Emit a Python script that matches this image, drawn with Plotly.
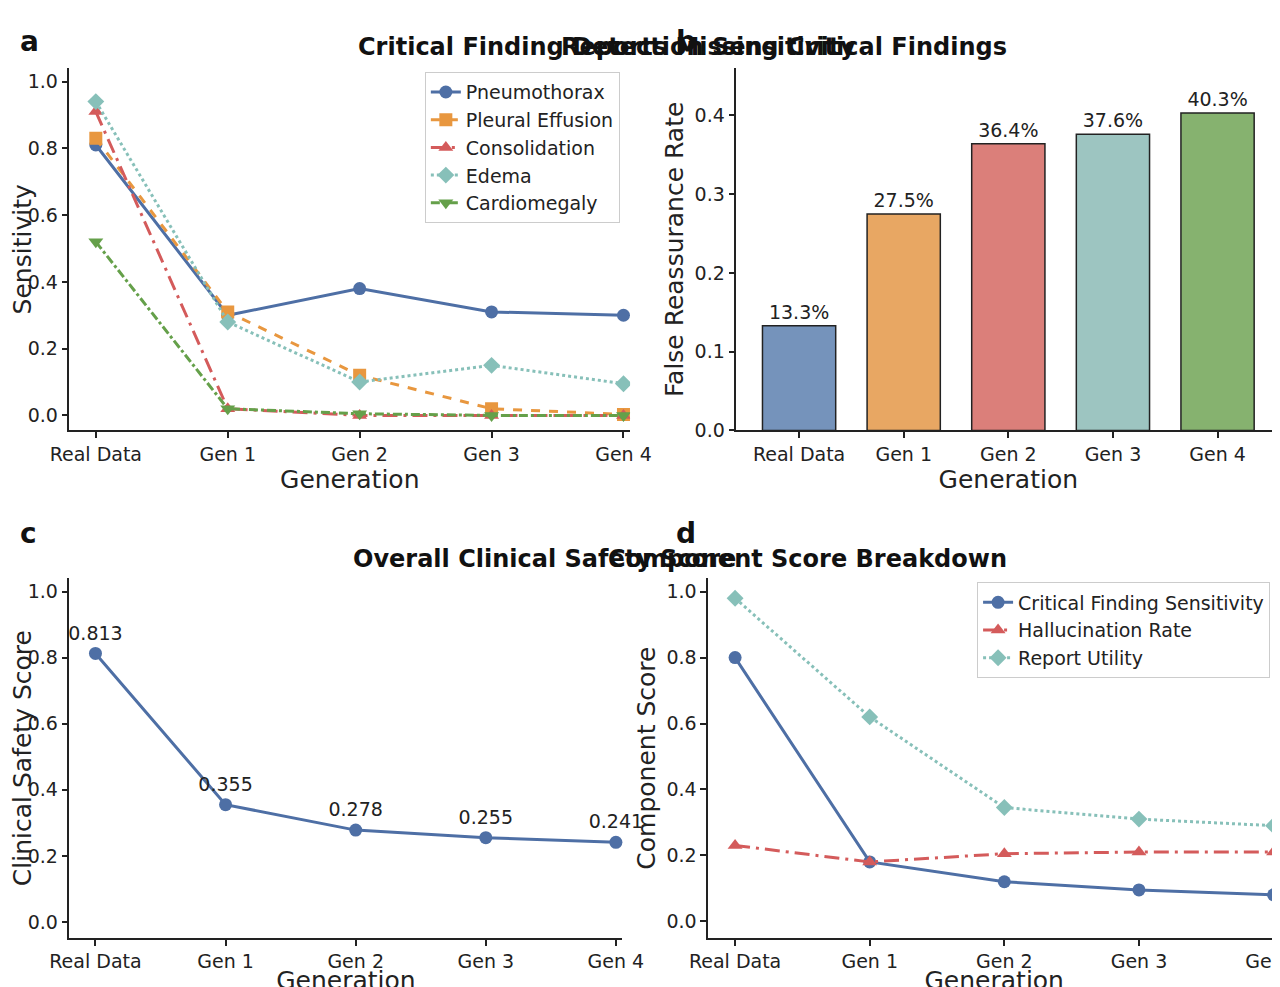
import plotly.graph_objects as go
from plotly.subplots import make_subplots

gens = ["Real Data", "Gen 1", "Gen 2", "Gen 3", "Gen 4"]

pneumothorax = [0.81, 0.30, 0.38, 0.31, 0.30]
pleural_effusion = [0.83, 0.31, 0.12, 0.02, 0.003]
consolidation = [0.91, 0.02, 0.0, 0.0, 0.0]
edema = [0.94, 0.28, 0.10, 0.15, 0.095]
cardiomegaly = [0.52, 0.02, 0.005, 0.0, 0.0]

false_reassurance = [0.133, 0.275, 0.364, 0.376, 0.403]

safety_score = [0.813, 0.355, 0.278, 0.255, 0.241]

crit_sens = [0.80, 0.18, 0.12, 0.095, 0.08]
halluc_rate = [0.23, 0.18, 0.205, 0.21, 0.21]
report_utility = [0.98, 0.62, 0.345, 0.31, 0.29]

BLUE, ORANGE, RED, TEAL, GREEN = "#4e6fa5", "#e8973f", "#d45b5b", "#87c0b9", "#65a04a"
BAR_COLORS = ["#7593bb", "#e8a763", "#db7f7a", "#9dc5c1", "#86b26f"]
FONT = "DejaVu Sans"

fig = make_subplots(rows=2, cols=2)


def line(x, y, name, color, dash, symbol, legend, xa, ya, size=13):
    return go.Scatter(
        x=x, y=y, name=name, mode="lines+markers", legend=legend,
        line=dict(color=color, dash=dash, width=3),
        marker=dict(symbol=symbol, size=size, color=color),
        xaxis=xa, yaxis=ya,
    )


series_a = [
    (pneumothorax, "Pneumothorax", BLUE, "solid", "circle"),
    (pleural_effusion, "Pleural Effusion", ORANGE, "dash", "square"),
    (consolidation, "Consolidation", RED, "longdashdot", "triangle-up"),
    (edema, "Edema", TEAL, "dot", "diamond"),
    (cardiomegaly, "Cardiomegaly", GREEN, "dashdot", "triangle-down"),
]
for y, n, c, d, s in series_a:
    fig.add_trace(line(gens, y, n, c, d, s, "legend", "x", "y"))

fig.add_trace(go.Bar(
    x=gens, y=false_reassurance, marker=dict(color=BAR_COLORS, line=dict(color="#222", width=1.5)),
    text=[f"{v*100:.1f}%" for v in false_reassurance], textposition="outside",
    textfont=dict(size=19, color="#222"), width=0.7, showlegend=False, cliponaxis=False,
    xaxis="x2", yaxis="y2",
))

fig.add_trace(go.Scatter(
    x=gens, y=safety_score, mode="lines+markers+text", showlegend=False,
    text=[f"{v:.3f}" for v in safety_score], textposition="top center",
    textfont=dict(size=19, color="#222"), cliponaxis=False,
    line=dict(color=BLUE, width=3), marker=dict(size=13, color=BLUE),
    xaxis="x3", yaxis="y3",
))

series_d = [
    (crit_sens, "Critical Finding Sensitivity", BLUE, "solid", "circle"),
    (halluc_rate, "Hallucination Rate", RED, "longdashdot", "triangle-up"),
    (report_utility, "Report Utility", TEAL, "dot", "diamond"),
]
for y, n, c, d, s in series_d:
    fig.add_trace(line(gens, y, n, c, d, s, "legend2", "x4", "y4"))

axis_style = dict(
    showline=True, linecolor="#222", linewidth=1.5, ticks="outside", tickwidth=1.5,
    ticklen=6, tickcolor="#222", showgrid=False, zeroline=False,
    tickfont=dict(size=19, color="#222"), title_font=dict(size=25, color="#222"),
)
doms = {
    1: ([0.048, 0.486], [0.572, 0.939]),
    2: ([0.569, 0.994], [0.572, 0.939]),
    3: ([0.048, 0.48], [0.058, 0.422]),
    4: ([0.547, 0.994], [0.058, 0.422]),
}
ytitles = {1: "Sensitivity", 2: "False Reassurance Rate", 3: "Clinical Safety Score", 4: "Component Score"}
yranges = {1: [-0.045, 1.04], 2: [0, 0.46], 3: [-0.048, 1.04], 4: [-0.05, 1.04]}
for i in range(1, 5):
    sfx = "" if i == 1 else str(i)
    xr = [-0.6, 4.6] if i == 2 else [-0.2, 4.05]
    fig.layout["xaxis" + sfx].update(domain=doms[i][0], range=xr, title_text="Generation",
                                     title_standoff=2, **axis_style)
    fig.layout["yaxis" + sfx].update(domain=doms[i][1], range=yranges[i], title_text=ytitles[i],
                                     dtick=0.1 if i == 2 else 0.2, tickformat=".1f",
                                     title_standoff=4, **axis_style)

titles = [
    (0.272, 0.96, "Critical Finding Detection Sensitivity"),
    (0.782, 0.96, "Reports Missing Critical Findings"),
    (0.268, 0.442, "Overall Clinical Safety Score"),
    (0.782, 0.442, "Component Score Breakdown"),
]
for x, y, t in titles:
    fig.add_annotation(x=x, y=y, xref="paper", yref="paper", text=f"<b>{t}</b>",
                       showarrow=False, font=dict(size=24, color="#111"), yanchor="middle")
letters = [(0.008, 0.985, "a"), (0.52, 0.985, "b"), (0.008, 0.468, "c"), (0.52, 0.468, "d")]
for x, y, t in letters:
    fig.add_annotation(x=x, y=y, xref="paper", yref="paper", text=f"<b>{t}</b>",
                       showarrow=False, font=dict(size=28, color="#111"), xanchor="left")

legend_style = dict(font=dict(size=19, color="#222"), bgcolor="rgba(255,255,255,0.8)",
                    bordercolor="#ccc", borderwidth=1, xanchor="right", yanchor="top")
fig.update_layout(
    width=1280, height=987, margin=dict(l=0, r=0, t=0, b=0, autoexpand=False),
    plot_bgcolor="white", paper_bgcolor="white", font=dict(family=FONT),
    legend=dict(x=0.478, y=0.935, **legend_style),
    legend2=dict(x=0.986, y=0.418, **legend_style),
)

fig.write_html("out.html")
